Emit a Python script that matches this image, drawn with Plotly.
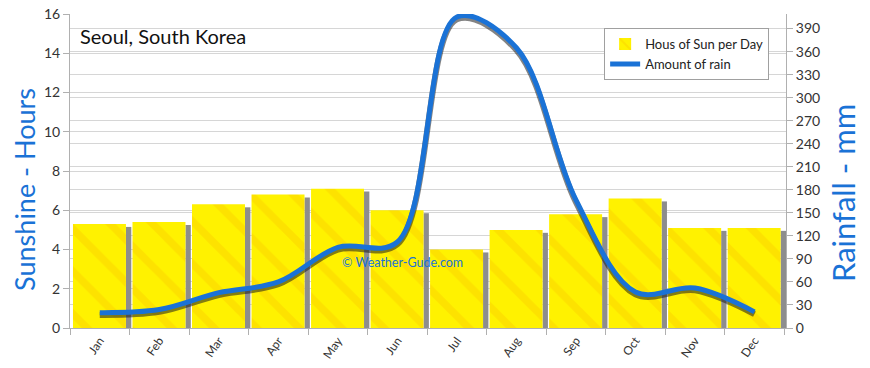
import plotly.graph_objects as go
from plotly.subplots import make_subplots

months = ["Jan", "Feb", "Mar", "Apr", "May", "Jun", "Jul", "Aug", "Sep", "Oct", "Nov", "Dec"]
sun_hours = [5.3, 5.4, 6.3, 6.8, 7.1, 6.0, 4.0, 5.0, 5.8, 6.6, 5.1, 5.1]
rain_mm = [20, 24, 46, 60, 105, 112, 405, 365, 167, 47, 52, 21]
left_ticks = [0, 2, 4, 6, 8, 10, 12, 14, 16]
right_ticks = [0, 30, 60, 90, 120, 150, 180, 210, 240, 270, 300, 330, 360, 390]

FONT = "Lato"
BLUE = "#1a72d6"

fig = make_subplots(specs=[[{"secondary_y": True}]])

# bar shadows
fig.add_trace(go.Bar(
    x=months, y=[v - 0.15 for v in sun_hours], offset=0.44, width=0.09,
    marker=dict(color="#8d8d8d", line=dict(width=0)), showlegend=False, hoverinfo="skip"),
    secondary_y=False)
# bars
fig.add_trace(go.Bar(
    x=months, y=sun_hours, offset=-0.45, width=0.89, name="Hous of Sun per Day",
    marker=dict(color="#fff200", line=dict(width=0),
                pattern=dict(shape="\\", fgcolor="#f5a800", fgopacity=0.22, size=30, solidity=0.25))),
    secondary_y=False)
# line shadow
fig.add_trace(go.Scatter(
    x=months, y=[v - 3 for v in rain_mm], mode="lines",
    line=dict(color="rgba(30,30,30,0.55)", width=6, shape="spline", smoothing=1.0),
    showlegend=False, hoverinfo="skip"), secondary_y=True)
# line
fig.add_trace(go.Scatter(
    x=months, y=rain_mm, mode="lines", name="Amount of rain",
    line=dict(color=BLUE, width=5, shape="spline", smoothing=1.0)), secondary_y=True)

fig.update_layout(
    width=870, height=368,
    margin=dict(l=62, r=92, t=6, b=48),
    paper_bgcolor="white", plot_bgcolor="white",
    barmode="overlay",
    font=dict(family=FONT, size=13, color="#333333"),
    legend=dict(x=0.746, y=0.955, xanchor="left", yanchor="top",
                bgcolor="white", bordercolor="#a0a0a0", borderwidth=1,
                font=dict(size=13, color="#222222"), tracegroupgap=2),
    annotations=[
        dict(text="Seoul, South Korea", x=0.011, y=0.93, xref="paper", yref="paper",
             xanchor="left", yanchor="middle", showarrow=False,
             font=dict(size=20, color="#111111", family=FONT)),
        dict(text="© Weather-Gude.com", x=0.4637, y=0.21, xref="paper", yref="paper",
             xanchor="center", yanchor="middle", showarrow=False,
             font=dict(size=12.5, color=BLUE, family=FONT)),
        dict(text="Sunshine - Hours", x=-0.0628, y=0.44, xref="paper", yref="paper",
             xanchor="center", yanchor="middle", textangle=-90, showarrow=False,
             font=dict(size=27, color=BLUE, family=FONT)),
        dict(text="Rainfall - mm", x=1.0796, y=0.43, xref="paper", yref="paper",
             xanchor="center", yanchor="middle", textangle=-90, showarrow=False,
             font=dict(size=31, color=BLUE, family=FONT)),
    ],
)

fig.update_xaxes(
    type="category", domain=[0, 1], showgrid=False, showline=True, linecolor="#b0b0b0",
    ticks="outside", ticklen=6, tickcolor="#b0b0b0", tickangle=-55, automargin=False,
    tickson="boundaries", tickfont=dict(size=12, color="#333333"))

fig.update_yaxes(
    range=[0, 16.0001], tickvals=left_ticks, showgrid=True, gridcolor="#d6d6d6",
    showline=True, linecolor="#b0b0b0", ticks="outside", ticklen=6, tickcolor="#b0b0b0",
    zeroline=False, automargin=False, ticklabeloverflow="allow",
    tickfont=dict(size=14, color="#333333"), secondary_y=False)

fig.update_yaxes(
    range=[0, 409], tickvals=right_ticks, showgrid=True, gridcolor="#d6d6d6",
    showline=True, linecolor="#b0b0b0", ticks="outside", ticklen=6, tickcolor="#b0b0b0",
    zeroline=False, automargin=False, ticklabeloverflow="allow",
    tickfont=dict(size=14, color="#333333"), secondary_y=True)

fig.write_html("out.html")
